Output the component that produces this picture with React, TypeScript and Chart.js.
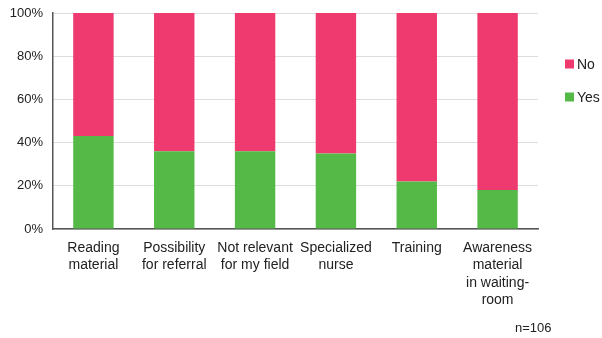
import { useEffect, useRef } from "react";
import { Chart, registerables } from "chart.js";

Chart.register(...registerables);

// Reasons given, one multi-line label per category
const categories: string[][] = [
  ["Reading", "material"],
  ["Possibility", "for referral"],
  ["Not relevant", "for my field"],
  ["Specialized", "nurse"],
  ["Training"],
  ["Awareness", "material", "in waiting-", "room"],
];

// Share of respondents (%) per answer
const yesShare = [43, 36, 36, 35, 22, 18];
const noShare = [57, 64, 64, 65, 78, 82];

const yTicks = [0, 20, 40, 60, 80, 100];
const sampleNote = "n=106";

const YES_COLOR = "#55B947";
const NO_COLOR = "#EE3A6E";
const FONT = "'Liberation Sans', Arial, Helvetica, sans-serif";

// Legend drawn to the right of the plot, top entry first
const sideLegend = {
  id: "sideLegend",
  afterDraw(chart: Chart) {
    const { ctx, chartArea } = chart;
    const entries = [...chart.data.datasets].reverse();
    ctx.save();
    ctx.font = `14px ${FONT}`;
    ctx.textBaseline = "middle";
    ctx.textAlign = "left";
    const x = chartArea.right + 27;
    entries.forEach((ds, i) => {
      const y = 64 + i * 33;
      ctx.fillStyle = ds.backgroundColor as string;
      ctx.fillRect(x, y - 4.5, 9, 9);
      ctx.fillStyle = "#222";
      ctx.fillText(ds.label as string, x + 12, y + 1);
    });
    ctx.restore();
  },
};

// Sample size note in the lower right corner
const noteText = {
  id: "noteText",
  afterDraw(chart: Chart) {
    const { ctx } = chart;
    ctx.save();
    ctx.font = `13px ${FONT}`;
    ctx.fillStyle = "#222";
    ctx.textAlign = "left";
    ctx.textBaseline = "middle";
    ctx.fillText(sampleNote, 515, 328);
    ctx.restore();
  },
};

export default function App() {
  const canvasRef = useRef<HTMLCanvasElement | null>(null);

  useEffect(() => {
    document.body.style.margin = "0";
    const canvas = canvasRef.current;
    if (!canvas) return;
    const chart = new Chart(canvas, {
      type: "bar",
      data: {
        labels: categories,
        datasets: [
          {
            label: "Yes",
            data: yesShare,
            backgroundColor: YES_COLOR,
            barPercentage: 0.5,
            categoryPercentage: 1,
          },
          {
            label: "No",
            data: noShare,
            backgroundColor: NO_COLOR,
            barPercentage: 0.5,
            categoryPercentage: 1,
          },
        ],
      },
      options: {
        animation: false,
        responsive: false,
        devicePixelRatio: 1,
        layout: { padding: { top: 13, right: 64, left: 0, bottom: 0 } },
        plugins: {
          legend: { display: false },
          tooltip: { enabled: false },
        },
        scales: {
          x: {
            stacked: true,
            grid: { display: false, drawTicks: false },
            border: { display: true, color: "#555", width: 1.5 },
            ticks: {
              color: "#222",
              font: { family: FONT, size: 14, lineHeight: 1.25 },
              padding: 10,
              maxRotation: 0,
              autoSkip: false,
            },
            afterFit(scale: any) {
              scale.height = 109;
            },
          },
          y: {
            stacked: true,
            min: 0,
            max: 100,
            afterBuildTicks(scale: any) {
              scale.ticks = yTicks.map((v) => ({ value: v }));
            },
            grid: { color: "#DDDDDD", lineWidth: 1, drawTicks: false },
            border: { display: true, color: "#555", width: 1.5 },
            ticks: {
              color: "#222",
              font: { family: FONT, size: 13 },
              padding: 10,
              callback: (v: any) => `${v}%`,
            },
            afterFit(scale: any) {
              scale.width = 53;
              scale.paddingTop = 0;
              scale.paddingBottom = 0;
            },
          },
        },
      },
      plugins: [sideLegend, noteText],
    });
    return () => chart.destroy();
  }, []);

  return <canvas ref={canvasRef} width={602} height={338} />;
}
